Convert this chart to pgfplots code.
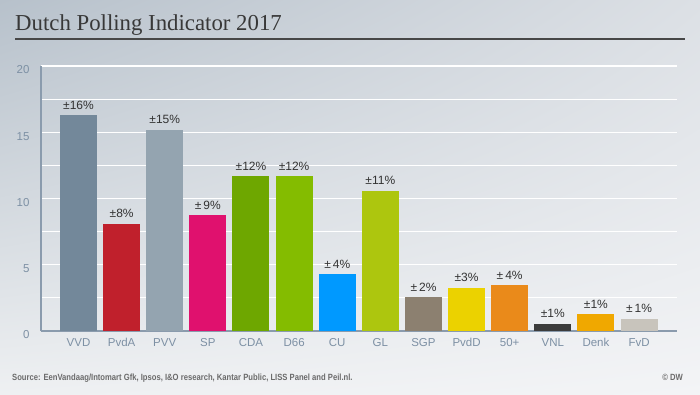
\documentclass[border=0pt]{standalone}
\usepackage{fontspec}
\setmainfont{Liberation Sans}
\newfontfamily\titlefont{Liberation Serif}
\usepackage{pgfplots}
\usepackage{pgfplotstable}
\usetikzlibrary{shadings}
\pgfplotsset{compat=1.18}
\definecolor{axisc}{HTML}{8A9BAD}
\definecolor{tickc}{HTML}{7D90A4}
\definecolor{labc}{HTML}{333333}
\definecolor{bgUL}{RGB}{183,193,203}
\definecolor{bgUR}{RGB}{220,224,229}
\definecolor{bgLL}{RGB}{238,240,242}
\definecolor{bgLR}{RGB}{243,244,246}
\definecolor{cVVD}{RGB}{115,136,154}
\definecolor{cPvdA}{RGB}{192,32,44}
\definecolor{cPVV}{RGB}{148,164,176}
\definecolor{cSP}{RGB}{224,17,110}
\definecolor{cCDA}{RGB}{110,167,0}
\definecolor{cD}{RGB}{132,188,0}
\definecolor{cCU}{RGB}{0,153,255}
\definecolor{cGL}{RGB}{173,198,14}
\definecolor{cSGP}{RGB}{140,128,112}
\definecolor{cPvdD}{RGB}{235,210,0}
\definecolor{cFifty}{RGB}{234,138,26}
\definecolor{cVNL}{RGB}{60,60,60}
\definecolor{cDenk}{RGB}{240,168,0}
\definecolor{cFvD}{RGB}{200,196,188}
\pgfplotstableread{
x y lab
0 16.3 {±16\%}
1 8.08 {±8\%}
2 15.17 {±15\%}
3 8.75 {±\,9\%}
4 11.67 {±12\%}
5 11.67 {±12\%}
6 4.3 {±\,4\%}
7 10.57 {±11\%}
8 2.54 {±\,2\%}
9 3.25 {±3\%}
10 3.45 {±\,4\%}
11 0.53 {±1\%}
12 1.26 {±1\%}
13 0.93 {±\,1\%}
}\datatable
\begin{document}
\begin{tikzpicture}[x=1pt,y=1pt]
\useasboundingbox (0,0) rectangle (700,394);
\shade[upper left=bgUL, upper right=bgUR, lower left=bgLL, lower right=bgLR] (0,0) rectangle (700,394);
\node[anchor=base west, inner sep=0, text=black!78, font=\titlefont\fontsize{22.8}{26}\selectfont] at (15,363) {Dutch Polling Indicator 2017};
\draw[black!72, line width=1.4pt] (15,355) -- (685,355);
\begin{axis}[
  at={(41pt,63pt)}, anchor=south west,
  scale only axis, width=636pt, height=265pt,
  xmin=-0.87, xmax=13.88, ymin=0, ymax=20,
  axis lines=left, axis line style={axisc, line width=1.2pt, -},
  ytick={0,5,10,15,20}, minor ytick={2.5,7.5,12.5,17.5},
  ymajorgrids, yminorgrids,
  major grid style={white, line width=1.2pt},
  minor grid style={white, line width=1.2pt},
  major tick length=0pt, minor tick length=0pt,
  xtick={0,...,13},
  xticklabels={VVD,PvdA,PVV,SP,CDA,D66,CU,GL,SGP,PvdD,50+,VNL,Denk,FvD},
  tick label style={text=tickc, font=\fontsize{11.5}{13}\selectfont},
  yticklabel style={xshift=-8pt, yshift=-4pt},
  xticklabel style={yshift=-4pt},
  /pgf/number format/assume math mode=true,
  clip=false,
]
\addplot[ybar, bar width=37pt, draw=none, fill=cVVD] coordinates {(0,16.3)};
\addplot[ybar, bar width=37pt, draw=none, fill=cPvdA] coordinates {(1,8.08)};
\addplot[ybar, bar width=37pt, draw=none, fill=cPVV] coordinates {(2,15.17)};
\addplot[ybar, bar width=37pt, draw=none, fill=cSP] coordinates {(3,8.75)};
\addplot[ybar, bar width=37pt, draw=none, fill=cCDA] coordinates {(4,11.67)};
\addplot[ybar, bar width=37pt, draw=none, fill=cD] coordinates {(5,11.67)};
\addplot[ybar, bar width=37pt, draw=none, fill=cCU] coordinates {(6,4.3)};
\addplot[ybar, bar width=37pt, draw=none, fill=cGL] coordinates {(7,10.57)};
\addplot[ybar, bar width=37pt, draw=none, fill=cSGP] coordinates {(8,2.54)};
\addplot[ybar, bar width=37pt, draw=none, fill=cPvdD] coordinates {(9,3.25)};
\addplot[ybar, bar width=37pt, draw=none, fill=cFifty] coordinates {(10,3.45)};
\addplot[ybar, bar width=37pt, draw=none, fill=cVNL] coordinates {(11,0.53)};
\addplot[ybar, bar width=37pt, draw=none, fill=cDenk] coordinates {(12,1.26)};
\addplot[ybar, bar width=37pt, draw=none, fill=cFvD] coordinates {(13,0.93)};
\addplot[only marks, mark=none, point meta=explicit symbolic,
  nodes near coords,
  every node near coord/.append style={text=labc, font=\fontsize{12}{13}\selectfont, inner sep=0pt, anchor=base, yshift=6pt}]
  table[x=x,y=y,meta=lab] {\datatable};
\end{axis}
\node[anchor=base west, inner sep=0, text=black!58, font=\bfseries\fontsize{9}{11}\selectfont] at (12,14) {\scalebox{0.85}[1]{Source: EenVandaag/Intomart Gfk, Ipsos, I\&O research, Kantar Public, LISS Panel and Peil.nl.}};
\node[anchor=base east, inner sep=0, text=black!58, font=\bfseries\fontsize{9}{11}\selectfont] at (683,14) {\scalebox{0.85}[1]{© DW}};
\end{tikzpicture}
\end{document}
